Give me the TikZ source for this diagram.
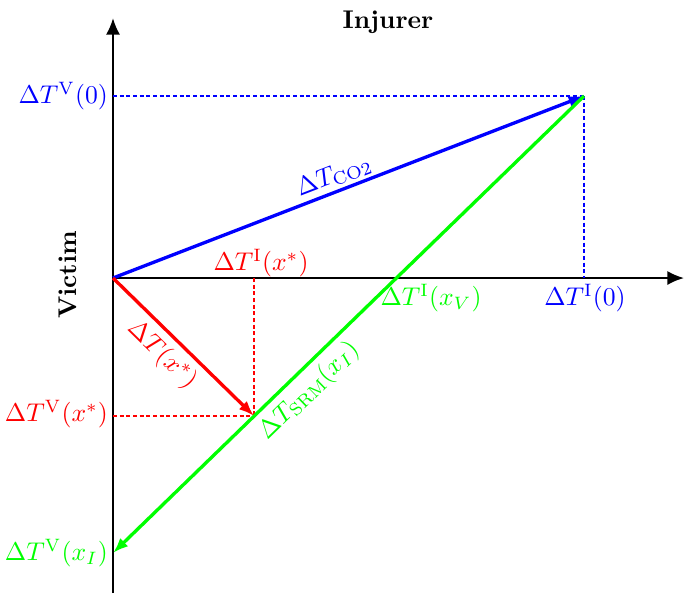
\documentclass[tikz,border=0pt]{standalone}
\usetikzlibrary{arrows.meta}
\begin{document}
\begin{tikzpicture}[x=0.39pt,y=-0.39pt,
  axis/.style={line width=0.8pt,-{Latex[length=6.5pt,width=5.5pt]}},
  vec/.style={line width=1.3pt,-{Latex[length=6pt,width=4.5pt]}},
  guide/.style={line width=1pt,dash pattern=on 1.6pt off 1pt},
  lab/.style={inner sep=1pt}]
\useasboundingbox (0,0) rectangle (684,593);
% coordinates
\coordinate (O) at (113,278);
\coordinate (A) at (584,96);
\coordinate (P) at (254,416);
\coordinate (G) at (113,553);
\coordinate (Ybot) at (113,593);
\coordinate (Ytop) at (113,18);
\coordinate (Xr) at (684,278);
\coordinate (AV) at (113,96);
\coordinate (AI) at (584,278);
\coordinate (PI) at (254,278);
\coordinate (PV) at (113,416);
% axes
\draw[axis] (Ybot) -- (Ytop);
\draw[axis] (O) -- (Xr);
% guides
\draw[guide,blue] (AV) -- (A);
\draw[guide,blue] (A) -- (AI);
\draw[guide,red] (PI) -- (P);
\draw[guide,red] (PV) -- (P);
% vectors
\draw[vec,blue] (O) -- (A);
\draw[vec,green] (A) -- (G);
\draw[vec,red] (O) -- (P);
% labels
\node[lab,font=\bfseries] (inj) at (388,22) {Injurer};
\node[lab,font=\bfseries,rotate=90] (vic) at (68,275) {Victim};
\node[lab,blue,anchor=east] (lv0) at (111,96) {$\Delta T^{\mathrm{V}}(0)$};
\node[lab,blue] (li0) at (585,298) {$\Delta T^{\mathrm{I}}(0)$};
\node[lab,red] (lix) at (261,263) {$\Delta T^{\mathrm{I}}(x^*)$};
\node[lab,red,anchor=east] (lvx) at (111,414) {$\Delta T^{\mathrm{V}}(x^*)$};
\node[lab,green,anchor=east] (lvi) at (111,553) {$\Delta T^{\mathrm{V}}(x_I)$};
\node[lab,green] (liv) at (431,298) {$\Delta T^{\mathrm{I}}(x_V)$};
\node[lab,blue,rotate=21.1] (lco) at (334,176) {$\Delta T_{\mathrm{CO2}}$};
\node[lab,red,rotate=-44.4] (ldx) at (162,355) {$\Delta T(x^*)$};
\node[lab,green,rotate=44.1] (lsrm) at (309,391) {$\Delta T_{\mathrm{SRM}}(x_I)$};
\end{tikzpicture}
\end{document}
